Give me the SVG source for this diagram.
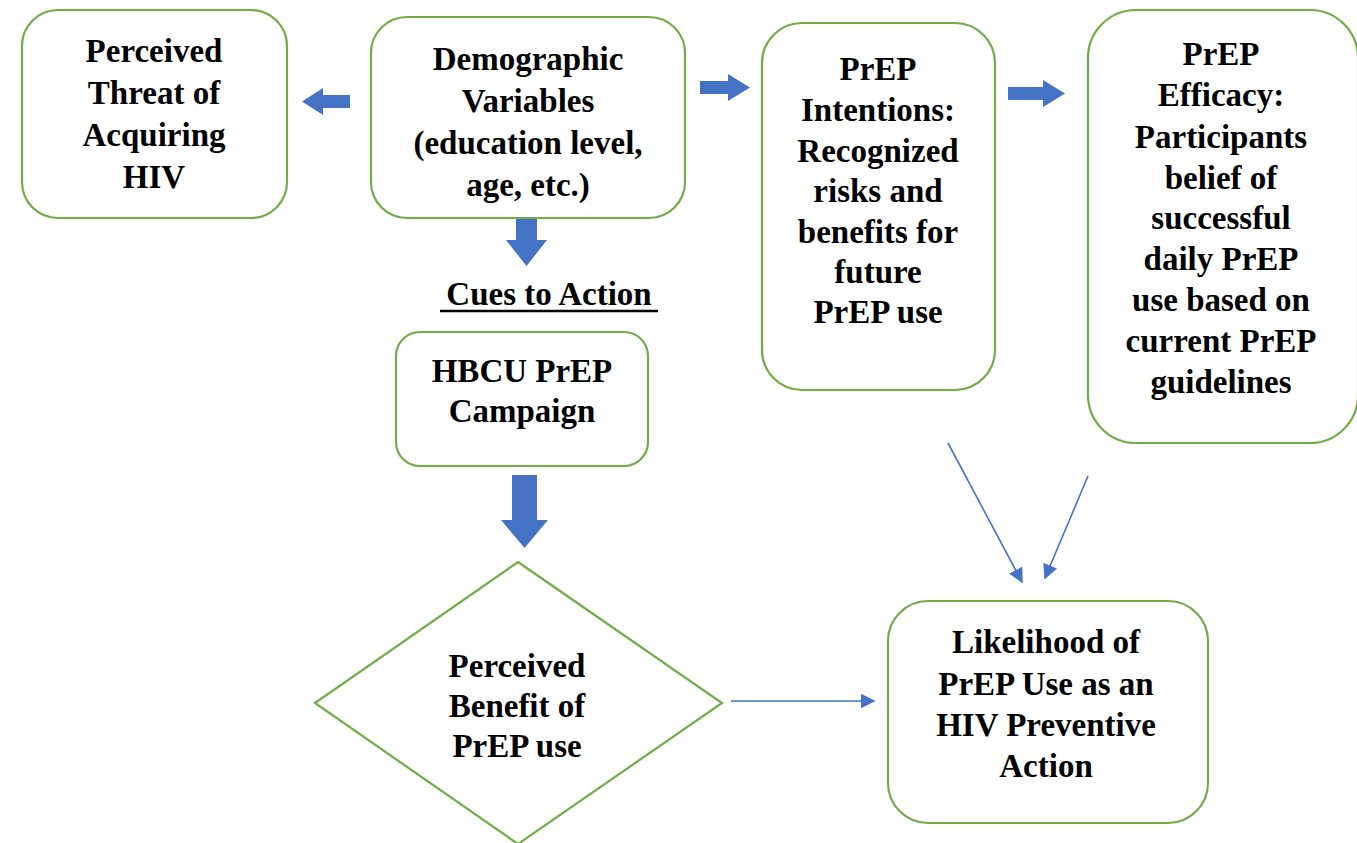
<svg xmlns="http://www.w3.org/2000/svg" width="1357" height="843" viewBox="0 0 1357 843">
<defs>
<style>
.box{fill:#fff;stroke:#70AD47;stroke-width:2.2}
.t{font-family:"Liberation Serif","Times New Roman",serif;font-weight:bold;font-size:33px;fill:#000;text-anchor:middle}
.blk{fill:#4472C4}
.thin{stroke:#4472C4;stroke-width:1.6;fill:none}
</style>
<marker id="ah" viewBox="0 0 10 10" refX="9" refY="5" markerWidth="15" markerHeight="15" markerUnits="userSpaceOnUse" orient="auto">
<path d="M0,0 L10,5 L0,10 z" fill="#4472C4"/>
</marker>
</defs>
<rect width="1357" height="843" fill="#fff"/>

<g id="connectors">
<polygon class="blk" points="350,95 323,95 323,88 302,101.5 323,115 323,108 350,108"/>
<polygon class="blk" points="700,81 728,81 728,74 750,87.5 728,101 728,94 700,94"/>
<polygon class="blk" points="1008,87 1043,87 1043,80 1065,93.5 1043,107 1043,100 1008,100"/>
<polygon class="blk" points="516,218 537,218 537,240 547,240 526.5,266 506,240 516,240"/>
<polygon class="blk" points="512,475 537,475 537,520 548,520 524.5,548 501,520 512,520"/>
<line class="thin" x1="948" y1="443" x2="1022" y2="582" marker-end="url(#ah)"/>
<line class="thin" x1="1088" y1="476" x2="1045" y2="578" marker-end="url(#ah)"/>
<line class="thin" x1="731" y1="701" x2="874" y2="701" marker-end="url(#ah)"/>
</g>

<g id="threat">
<rect class="box" x="22" y="10" width="265" height="208" rx="36"/>
<text class="t"><tspan x="154" y="62">Perceived</tspan><tspan x="154" y="104">Threat of</tspan><tspan x="154" y="146">Acquiring</tspan><tspan x="154" y="188">HIV</tspan></text>
</g>

<g id="demographic">
<rect class="box" x="371" y="17" width="314" height="201" rx="36"/>
<text class="t"><tspan x="528" y="70">Demographic</tspan><tspan x="528" y="112">Variables</tspan><tspan x="528" y="154">(education level,</tspan><tspan x="528" y="196">age, etc.)</tspan></text>
</g>

<g id="intentions">
<rect class="box" x="762" y="23" width="233" height="367" rx="40"/>
<text class="t"><tspan x="878" y="80">PrEP</tspan><tspan x="878" y="121">Intentions:</tspan><tspan x="878" y="162">Recognized</tspan><tspan x="878" y="202">risks and</tspan><tspan x="878" y="243">benefits for</tspan><tspan x="878" y="283">future</tspan><tspan x="878" y="323">PrEP use</tspan></text>
</g>

<g id="efficacy">
<rect class="box" x="1088" y="10" width="270" height="433" rx="48"/>
<text class="t"><tspan x="1221" y="65">PrEP</tspan><tspan x="1221" y="106">Efficacy:</tspan><tspan x="1221" y="148">Participants</tspan><tspan x="1221" y="189">belief of</tspan><tspan x="1221" y="229">successful</tspan><tspan x="1221" y="270">daily PrEP</tspan><tspan x="1221" y="311">use based on</tspan><tspan x="1221" y="352">current PrEP</tspan><tspan x="1221" y="393">guidelines</tspan></text>
</g>

<g id="cues">
<text class="t" x="549" y="305">Cues to Action</text>
<line x1="440" y1="311" x2="658" y2="311" stroke="#000" stroke-width="2.5"/>
</g>

<g id="campaign">
<rect class="box" x="396" y="332" width="252" height="134" rx="24"/>
<text class="t"><tspan x="522" y="382">HBCU PrEP</tspan><tspan x="522" y="422">Campaign</tspan></text>
</g>

<g id="benefit">
<polygon class="box" points="518,562 722,703 518,844 315,703"/>
<text class="t"><tspan x="517" y="677">Perceived</tspan><tspan x="517" y="717">Benefit of</tspan><tspan x="517" y="757">PrEP use</tspan></text>
</g>

<g id="likelihood">
<rect class="box" x="888" y="601" width="320" height="222" rx="40"/>
<text class="t"><tspan x="1046" y="653">Likelihood of</tspan><tspan x="1046" y="695">PrEP Use as an</tspan><tspan x="1046" y="736">HIV Preventive</tspan><tspan x="1046" y="777">Action</tspan></text>
</g>
</svg>
